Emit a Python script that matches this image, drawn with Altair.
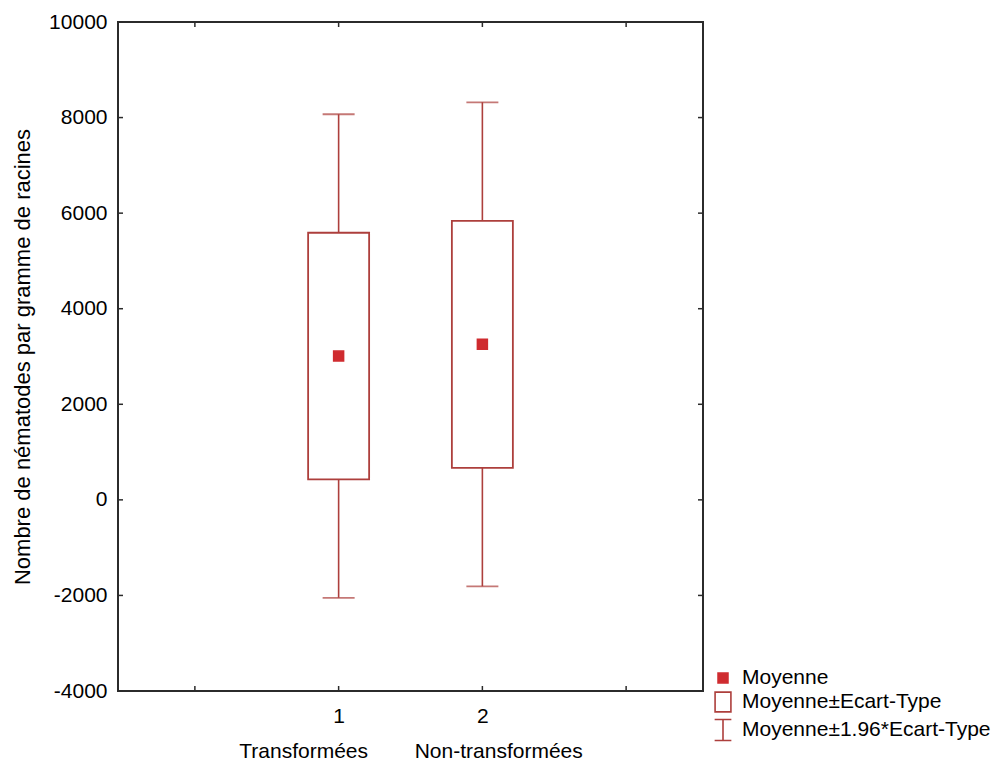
import altair as alt
import pandas as pd

# Group positions and labels on the x axis
groups = [1, 2]

# Mean, mean +/- SD box and mean +/- 1.96*SD whiskers (nematodes per gram of roots)
means = [3010, 3255]
sd_low = [430, 670]
sd_high = [5590, 5840]
ci_low = [-2050, -1810]
ci_high = [8070, 8320]

y_ticks = [-4000, -2000, 0, 2000, 4000, 6000, 8000, 10000]
x_ticks = [0, 1, 2, 3]

legend_labels = ["Moyenne", "Moyenne\u00b1Ecart-Type", "Moyenne\u00b11.96*Ecart-Type"]

W, H = 585, 669
FONT = "Liberation Sans"
BOX = "#ad3f3c"
MEAN = "#cf2b2f"
FRAME = "#2b2b2b"
TICK_LEN = 5

df = pd.DataFrame({
    "groupe": groups,
    "moyenne": means,
    "sd_low": sd_low,
    "sd_high": sd_high,
    "ci_low": ci_low,
    "ci_high": ci_high,
    "stat": ["Moyenne"] * len(groups),
})

x_scale = alt.Scale(domain=[-0.5, 3.5], nice=False, zero=False)
y_scale = alt.Scale(domain=[-4000, 10000], nice=False, zero=False)

x_title = "Transform\u00e9es" + "\u00a0" * 8 + "Non-transform\u00e9es"

x_enc = alt.X(
    "groupe:Q", scale=x_scale,
    axis=alt.Axis(values=groups, format="d", ticks=False, domain=False, grid=False,
                  labelPadding=14, titlePadding=14, title=x_title),
)
y_axis = alt.Axis(values=y_ticks, labelExpr="'' + datum.value", ticks=False, domain=False,
                  grid=False, labelPadding=11, titlePadding=14, titleFontSize=22,
                  title="Nombre de n\u00e9matodes par gramme de racines")

base = alt.Chart(df)

whisker = base.mark_rule(color=BOX, strokeWidth=1.6).encode(
    x=x_enc,
    y=alt.Y("ci_low:Q", scale=y_scale, axis=y_axis),
    y2="ci_high:Q",
)

caps_low = base.mark_tick(orient="horizontal", color=BOX, size=32, thickness=1.8).encode(
    x="groupe:Q", y="ci_low:Q")
caps_high = base.mark_tick(orient="horizontal", color=BOX, size=32, thickness=1.8).encode(
    x="groupe:Q", y="ci_high:Q")

box = base.mark_bar(size=61, fill="white", stroke=BOX, strokeWidth=1.8).encode(
    x="groupe:Q", y="sd_low:Q", y2="sd_high:Q")

# Legend symbols: filled square, open box, I-beam (paths in the [-1, 1] square)
sq = "M-0.45,-0.45H0.45V0.45H-0.45Z"
open_box = "M-0.72,-0.9H0.72V0.9H-0.72Z"
ibeam = "M-0.76,-0.95H0.76M0,-0.95V0.95M-0.76,0.95H0.76"

leg = alt.Legend(title=None, orient="none", legendX=593, legendY=644, labelLimit=400)

mean_pts = base.mark_point(size=484, strokeWidth=1.6, opacity=1).encode(
    x="groupe:Q",
    y="moyenne:Q",
    shape=alt.Shape("stat:N", scale=alt.Scale(domain=legend_labels, range=[sq, open_box, ibeam]),
                    legend=leg),
    fill=alt.Fill("stat:N", scale=alt.Scale(domain=legend_labels, range=[MEAN, "transparent", "transparent"]),
                  legend=leg),
    stroke=alt.Stroke("stat:N", scale=alt.Scale(domain=legend_labels, range=[MEAN, BOX, BOX]),
                      legend=leg),
)

# Inward tick marks on all four sides of the frame
yt = pd.DataFrame({"v": y_ticks})
xt = pd.DataFrame({"v": x_ticks})
tick_style = dict(color=FRAME, strokeWidth=1.5)
left_ticks = alt.Chart(yt).mark_rule(**tick_style).encode(
    y=alt.Y("v:Q", scale=y_scale), x=alt.value(0), x2=alt.value(TICK_LEN))
right_ticks = alt.Chart(yt).mark_rule(**tick_style).encode(
    y=alt.Y("v:Q", scale=y_scale), x=alt.value(W), x2=alt.value(W - TICK_LEN))
top_ticks = alt.Chart(xt).mark_rule(**tick_style).encode(
    x=alt.X("v:Q", scale=x_scale), y=alt.value(0), y2=alt.value(TICK_LEN))
bottom_ticks = alt.Chart(xt).mark_rule(**tick_style).encode(
    x=alt.X("v:Q", scale=x_scale), y=alt.value(H), y2=alt.value(H - TICK_LEN))

chart = alt.layer(
    whisker, caps_low, caps_high, box, mean_pts,
    left_ticks, right_ticks, top_ticks, bottom_ticks,
).properties(
    width=W, height=H,
    autosize=alt.AutoSizeParams(type="none"),
    padding={"left": 118, "top": 22, "right": 300, "bottom": 75},
    background="white",
).configure_view(
    stroke=FRAME, strokeWidth=2,
).configure_axis(
    labelFont=FONT, titleFont=FONT, labelFontSize=21, titleFontSize=21,
    labelColor="black", titleColor="black", titleFontWeight="normal",
).configure_legend(
    labelFont=FONT, labelFontSize=21, labelColor="black", symbolSize=484,
    symbolStrokeWidth=1.6, labelOffset=7, rowPadding=0, padding=0, labelLimit=400,
)

chart.save("out.html", embed_options={"renderer": "svg", "actions": False})
